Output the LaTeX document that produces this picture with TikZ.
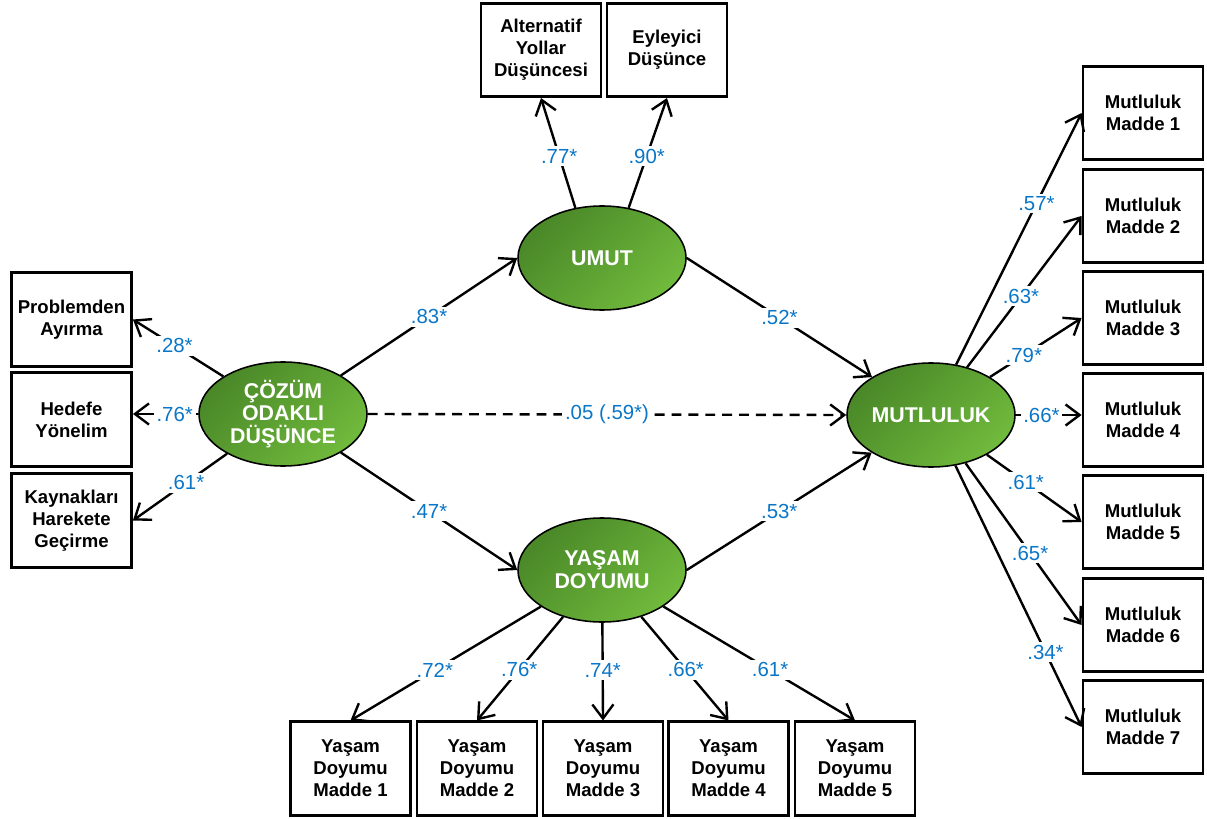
\documentclass[tikz,border=0pt]{standalone}
\usepackage{fontspec}
\setmainfont{Liberation Sans}
\usepackage{xcolor}
\usetikzlibrary{arrows.meta,shapes.geometric}

\definecolor{latentdark}{RGB}{74,136,40}
\definecolor{latentlight}{RGB}{112,186,60}
\definecolor{coefblue}{RGB}{10,118,200}

\tikzset{
  latent/.style={ellipse,draw=black,line width=1.1pt,minimum width=4.2cm,minimum height=2.6cm,
    top color=latentdark,bottom color=latentlight,shading angle=45,text=white,
    font=\fontsize{15.2}{16.2}\selectfont\bfseries,align=center,inner sep=0pt},
  obs/.style={rectangle,draw=black,line width=2pt,fill=white,minimum width=3.0cm,
    minimum height=2.33cm,font=\fontsize{13.2}{15.6}\selectfont\bfseries,align=center,inner sep=0pt},
  load/.style={line width=1.7pt,-{Straight Barb[length=10pt,width=15pt,line width=1.7pt]}},
  coef/.style={fill=white,text=coefblue,font=\fontsize{14.5}{16}\selectfont,inner sep=2pt}
}

\begin{document}
\begin{tikzpicture}[x=0.025cm,y=-0.025cm]
\useasboundingbox (0,0) rectangle (1207,819);

% Latent variables
\node[latent] (coz) at (283,414) {ÇÖZÜM\\ODAKLI\\DÜŞÜNCE};
\node[latent] (umut) at (602,258) {UMUT};
\node[latent] (yasam) at (602,570) {YAŞAM\\DOYUMU};
\node[latent] (mut) at (931,415) {MUTLULUK};

% Observed indicators
\node[obs] (alt) at (541,50) {Alternatif\\Yollar\\Düşüncesi};
\node[obs] (eyl) at (667,50) {Eyleyici\\Düşünce};

\node[obs] (prob) at (71.5,319.5) {Problemden\\Ayırma};
\node[obs] (hed) at (71.5,419.5) {Hedefe\\Yönelim};
\node[obs] (kay) at (71.5,520.5) {Kaynakları\\Harekete\\Geçirme};

\foreach \i/\yy in {1/113,2/216,3/318,4/420,5/522,6/625,7/727}
  \node[obs] (m\i) at (1143,\yy) {Mutluluk\\Madde \i};

\foreach \i/\xx in {1/350.5,2/477,3/603,4/728.5,5/855}
  \node[obs] (y\i) at (\xx,768.5) {Yaşam\\Doyumu\\Madde \i};

% Structural paths
\draw[load] (coz) -- (umut.west) node[coef,pos=0.5] {.83*};
\draw[load] (coz) -- (yasam.west) node[coef,pos=0.5] {.47*};
\draw[load] (umut.east) -- (mut) node[coef,pos=0.5] {.52*};
\draw[load] (yasam.east) -- (mut) node[coef,pos=0.5] {.53*};
\draw[load,dash pattern=on 7pt off 5pt] (coz.east) -- (mut.west) node[coef,pos=0.5] {.05 (.59*)};

% Loadings of UMUT
\draw[load] (umut.118) -- (alt.south) node[coef,pos=0.47] {.77*};
\draw[load] (umut.62) -- (eyl.south) node[coef,pos=0.47] {.90*};

% Loadings of COZUM ODAKLI DUSUNCE
\draw[load] (coz) -- (prob.east) node[coef,pos=0.54] {.28*};
\draw[load] (coz.west) -- (coz.west -| hed.east) node[coef,pos=0.36] {.76*};
\draw[load] (coz) -- (kay.east) node[coef,pos=0.435] {.61*};

% Loadings of YASAM DOYUMU
\draw[load] (yasam) -- (y1.north) node[coef,pos=0.557] {.72*};
\draw[load] (yasam) -- (y2.north) node[coef,pos=0.51] {.76*};
\draw[load] (yasam) -- (y3.north) node[coef,pos=0.485] {.74*};
\draw[load] (yasam) -- (y4.north) node[coef,pos=0.51] {.66*};
\draw[load] (yasam) -- (y5.north) node[coef,pos=0.557] {.61*};

% Loadings of MUTLULUK
\draw[load] (mut) -- (m1.west) node[coef,pos=0.64] {.57*};
\draw[load] (mut) -- (m2.west) node[coef,pos=0.47] {.63*};
\draw[load] (mut) -- (m3.west) node[coef,pos=0.37] {.79*};
\draw[load] (mut.east) -- (mut.east -| m4.west) node[coef,pos=0.39] {.66*};
\draw[load] (mut) -- (m5.west) node[coef,pos=0.41] {.61*};
\draw[load] (mut) -- (m6.west) node[coef,pos=0.556] {.65*};
\draw[load] (mut) -- (m7.west) node[coef,pos=0.714] {.34*};
\end{tikzpicture}
\end{document}
